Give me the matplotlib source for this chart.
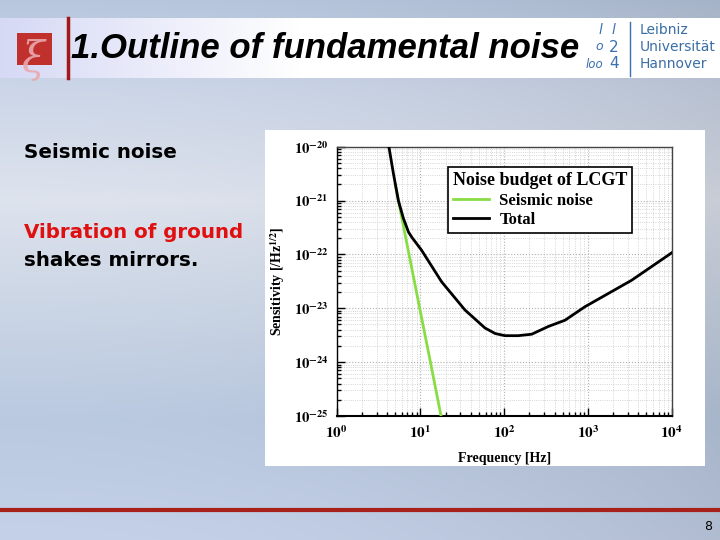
import numpy as np
import matplotlib
matplotlib.use("Agg")
import matplotlib.pyplot as plt
from matplotlib.patches import Rectangle
from matplotlib.ticker import LogLocator, FixedLocator, NullFormatter

# ---- data ----
total_freq = [4.2, 4.75, 5.45, 6.25, 7.2, 7.86, 10.3, 17.9, 34, 59, 78, 102, 147, 213, 337, 532, 922, 3310, 10000]
total_val = [1.0e-20, 3.2e-21, 1.0e-21, 4.7e-22, 2.6e-22, 2.1e-22, 1.2e-22, 3.1e-23, 9.3e-24,
             4.3e-24, 3.4e-24, 3.1e-24, 3.1e-24, 3.3e-24, 4.6e-24, 6.0e-24, 1.07e-23, 3.3e-23, 1.07e-22]
seis_freq = [5.0, 7.0, 10.0, 13.0, 17.6]
seis_val = [2.0e-21, 1.4e-22, 8.5e-24, 1.1e-24, 1.0e-25]
xtick_vals = [1, 10, 100, 1000, 10000]
xtick_labels = ["0", "1", "2", "3", "4"]
ytick_vals = [1e-25, 1e-24, 1e-23, 1e-22, 1e-21, 1e-20]
ytick_labels = ["-25", "-24", "-23", "-22", "-21", "-20"]

W, H = 720, 540
fig = plt.figure(figsize=(7.2, 5.4), dpi=100)

def fx(px):
    return px / W

def fy(py):
    return 1 - py / H

# ---- slide background ----
bg = fig.add_axes([0, 0, 1, 1])
bg.set_xlim(0, W)
bg.set_ylim(H, 0)
bg.axis("off")
ys = np.array([0, 90, 200, 300, 420, 540])
cols = np.array([[0.72, 0.78, 0.87], [0.80, 0.84, 0.91], [0.87, 0.89, 0.93],
                 [0.80, 0.84, 0.90], [0.73, 0.79, 0.88], [0.77, 0.82, 0.91]])
yy = np.arange(H)
img = np.zeros((H, W, 3))
xs = np.arange(W) / W
for c in range(3):
    col = np.interp(yy, ys, cols[:, c])
    img[:, :, c] = col[:, None] * (1 - 0.10 * xs[None, :] ** 2)
bg.imshow(img, extent=[0, W, H, 0], aspect="auto", zorder=0)

# title bar with lavender-to-white gradient
bar = np.ones((1, W, 3))
bx = np.arange(W)
t = np.clip(bx / 300.0, 0, 1)
bar[0, :, 0] = 0.84 + 0.16 * t
bar[0, :, 1] = 0.85 + 0.15 * t
bar[0, :, 2] = 0.96 + 0.04 * t
bg.imshow(bar, extent=[0, W, 78, 18], aspect="auto", zorder=1)
bg.plot([68, 68], [18, 78], color="#a01818", lw=2.5, zorder=2)

# left logo
bg.add_patch(Rectangle((17, 33), 35, 32, facecolor="#c0302c", edgecolor="none", zorder=2))
bg.text(33, 60, "ξ", fontsize=30, color="#eaa8b0", ha="center", va="center",
        family="DejaVu Serif", style="italic", zorder=3, alpha=0.9)

# title
bg.text(71, 49, "1.Outline of fundamental noise", fontsize=25, fontweight="bold",
        style="italic", family="Liberation Sans", color="black", va="center", ha="left", zorder=3)

# right logo
lc = "#3a70b0"
bg.text(600, 30, "l", fontsize=10, color=lc, style="italic", ha="center", va="center", zorder=3)
bg.text(613, 30, "l", fontsize=10, color=lc, style="italic", ha="center", va="center", zorder=3)
bg.text(599, 47, "o", fontsize=9, color=lc, style="italic", ha="center", va="center", zorder=3)
bg.text(614, 47, "2", fontsize=11, color=lc, ha="center", va="center", zorder=3)
bg.text(594, 64, "loo", fontsize=8.5, color=lc, style="italic", ha="center", va="center", zorder=3)
bg.text(614, 64, "4", fontsize=11, color=lc, ha="center", va="center", zorder=3)
bg.plot([630, 630], [22, 76], color=lc, lw=1, zorder=3)
for yv, s in [(30, "Leibniz"), (47, "Universität"), (64, "Hannover")]:
    bg.text(640, yv, s, fontsize=10, color="#3a6ea5", family="DejaVu Sans", ha="left", va="center", zorder=3)

# left text
tf = dict(fontsize=14.3, fontweight="bold", family="DejaVu Sans", ha="left", va="center", zorder=3)
bg.text(24, 152, "Seismic noise", color="black", **tf)
bg.text(24, 233, "Vibration of ground", color="#e01010", **tf)
bg.text(24, 260, "shakes mirrors.", color="black", **tf)

# bottom red line and page number
bg.plot([0, W], [510, 510], color="#a8201a", lw=3, zorder=2)
bg.text(708, 527, "8", fontsize=9, color="black", family="DejaVu Sans", ha="center", va="center", zorder=3)

# white chart image area
bg.add_patch(Rectangle((265, 130), 440, 336, facecolor="white", edgecolor="none", zorder=2))

# ---- chart ----
plt.rcParams["mathtext.fontset"] = "stix"
x0, x1 = 336.7, 671.7
y0, y1 = 146.7, 416.0
ax = fig.add_axes([fx(x0), fy(y1), fx(x1 - x0), (y1 - y0) / H])
ax.set_xscale("log")
ax.set_yscale("log")
ax.set_xlim(1, 1e4)
ax.set_ylim(1e-25, 1e-20)

ax.plot(seis_freq, seis_val, color="#88dd44", lw=2, label="Seismic noise", zorder=3)
ax.plot(total_freq, total_val, color="black", lw=2, label="Total", zorder=4)

ax.xaxis.set_major_locator(FixedLocator(xtick_vals))
ax.yaxis.set_major_locator(FixedLocator(ytick_vals))
ax.set_xticklabels([r"$\mathbf{10^{%s}}$" % s for s in xtick_labels], fontsize=11)
ax.set_yticklabels([r"$\mathbf{10^{%s}}$" % s for s in ytick_labels], fontsize=10.5)
ax.xaxis.set_minor_locator(LogLocator(base=10, subs=np.arange(2, 10), numticks=20))
ax.yaxis.set_minor_locator(LogLocator(base=10, subs=np.arange(2, 10), numticks=20))
ax.xaxis.set_minor_formatter(NullFormatter())
ax.yaxis.set_minor_formatter(NullFormatter())
ax.tick_params(which="both", direction="in", top=False, right=False, color="black")
ax.tick_params(which="major", length=6, width=1, pad=6)
ax.tick_params(which="minor", length=3, width=1)
ax.grid(which="major", color="#b0b0b0", ls=":", lw=0.8)
ax.grid(which="minor", color="#c8c8c8", ls=":", lw=0.6)
for sp in ax.spines.values():
    sp.set_color("#444444")
    sp.set_linewidth(1)
ax.spines["left"].set_color("black")
ax.spines["bottom"].set_color("black")
ax.spines["bottom"].set_linewidth(1.5)

ax.set_xlabel("Frequency [Hz]", family="Liberation Serif", fontweight="bold", fontsize=10, labelpad=8)
ax.set_ylabel(r"Sensitivity [/Hz$^{\mathbf{1/2}}$]", family="Liberation Serif", fontweight="bold",
              fontsize=10, labelpad=5)

leg = ax.legend(loc="upper left", bbox_to_anchor=(0.331, 0.923), borderaxespad=0,
                title="Noise budget of LCGT",
                prop={"family": "Liberation Serif", "weight": "bold", "size": 12},
                title_fontproperties={"family": "Liberation Serif", "weight": "bold", "size": 13},
                frameon=True, fancybox=False, edgecolor="black", framealpha=1,
                handlelength=2.2, borderpad=0.3, labelspacing=0.2, handletextpad=0.6)
leg._legend_box.align = "left"
leg.get_frame().set_linewidth(1.2)

fig.savefig("out.png", dpi=100)
